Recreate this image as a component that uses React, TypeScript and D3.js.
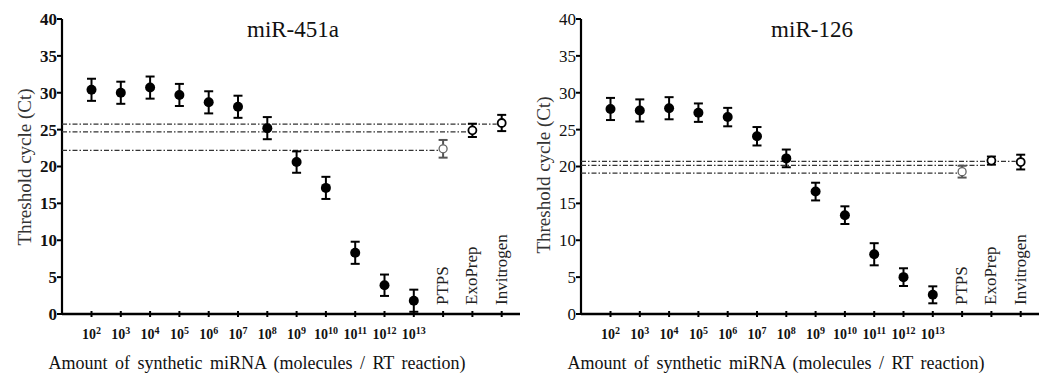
// App.tsx
import React, { useEffect, useRef } from "react";
import * as d3 from "d3";

// categories on the x axis
const exponents = ["2", "3", "4", "5", "6", "7", "8", "9", "10", "11", "12", "13"];
const kits = ["PTPS", "ExoPrep", "Invitrogen"];
const categories = [...exponents.map((e) => "10^" + e), ...kits];

// miR-451a
const mir451Mean = [30.4, 30.0, 30.7, 29.7, 28.7, 28.1, 25.2, 20.6, 17.1, 8.3, 3.9, 1.8, 22.4, 24.9, 25.9];
const mir451Err = [1.5, 1.5, 1.5, 1.5, 1.5, 1.5, 1.5, 1.45, 1.5, 1.5, 1.45, 1.5, 1.2, 0.9, 1.1];
const mir451Ref = [25.75, 24.7, 22.2];

// miR-126
const mir126Mean = [27.8, 27.6, 27.9, 27.3, 26.7, 24.1, 21.1, 16.6, 13.4, 8.1, 5.0, 2.6, 19.3, 20.8, 20.6];
const mir126Err = [1.5, 1.5, 1.5, 1.25, 1.25, 1.25, 1.2, 1.2, 1.2, 1.5, 1.2, 1.15, 0.8, 0.55, 1.0];
const mir126Ref = [20.7, 20.15, 19.1];

// each reference line runs from the y axis to this kit
const refEnds = ["Invitrogen", "ExoPrep", "PTPS"];

const yTicks = [0, 5, 10, 15, 20, 25, 30, 35, 40];

const FONT = "Liberation Serif, DejaVu Serif, Times New Roman, serif";

const panels = [
  { title: "miR-451a", mean: mir451Mean, err: mir451Err, ref: mir451Ref, left: 62, bold: true },
  { title: "miR-126", mean: mir126Mean, err: mir126Err, ref: mir126Ref, left: 581, bold: false },
];

const App = () => {
  const ref = useRef<SVGSVGElement>(null);

  useEffect(() => {
    const root = d3.select(ref.current);
    root.selectAll("*").remove();

    const top = 19;
    const bottom = 314;
    const y = d3.scaleLinear().domain([0, 40]).range([bottom, top]);

    panels.forEach((p) => {
      const x = d3
        .scalePoint<string>()
        .domain(categories)
        .range([p.left + 29.5, p.left + 29.5 + 14 * 29.3]);
      const axisEnd = p.left + 458;

      const g = root.append("g").attr("font-family", FONT);

      // title
      g.append("text")
        .attr("x", p.left + 231)
        .attr("y", 37)
        .attr("text-anchor", "middle")
        .attr("font-size", 23)
        .attr("fill", "#111")
        .text(p.title);

      // y axis
      g.append("line")
        .attr("x1", p.left)
        .attr("x2", p.left)
        .attr("y1", top)
        .attr("y2", bottom)
        .attr("stroke", "#000")
        .attr("stroke-width", 2.2);

      yTicks.forEach((t) => {
        g.append("line")
          .attr("x1", p.left - 5)
          .attr("x2", p.left)
          .attr("y1", y(t))
          .attr("y2", y(t))
          .attr("stroke", "#000")
          .attr("stroke-width", 2);
        g.append("text")
          .attr("x", p.left - 5)
          .attr("y", y(t))
          .attr("dy", "0.35em")
          .attr("text-anchor", "end")
          .attr("font-size", 17)
          .attr("font-weight", p.bold ? "bold" : "normal")
          .attr("fill", "#111")
          .text(t);
      });

      // y axis label
      g.append("text")
        .attr("transform", `translate(${p.left - 31},${p.bold ? 167 : 175}) rotate(-90)`)
        .attr("text-anchor", "middle")
        .attr("font-size", 19)
        .attr("fill", "#333")
        .text("Threshold cycle (Ct)");

      // x axis
      g.append("line")
        .attr("x1", p.left)
        .attr("x2", axisEnd)
        .attr("y1", bottom)
        .attr("y2", bottom)
        .attr("stroke", "#000")
        .attr("stroke-width", 2.5);

      categories.forEach((c) => {
        g.append("line")
          .attr("x1", x(c)!)
          .attr("x2", x(c)!)
          .attr("y1", bottom - 3)
          .attr("y2", bottom + 3)
          .attr("stroke", "#000")
          .attr("stroke-width", 2);
      });

      exponents.forEach((e) => {
        const t = g
          .append("text")
          .attr("x", x("10^" + e)!)
          .attr("y", 339)
          .attr("text-anchor", "middle")
          .attr("font-size", 14)
          .attr("font-weight", "bold")
          .attr("fill", "#111");
        t.append("tspan").text("10");
        t.append("tspan").attr("dy", "-5").attr("font-size", 10).text(e);
      });

      kits.forEach((k) => {
        g.append("text")
          .attr("transform", `translate(${x(k)! + 5},305) rotate(-90)`)
          .attr("font-size", 17)
          .attr("fill", "#222")
          .text(k);
      });

      g.append("text")
        .attr("x", p.left + 195)
        .attr("y", 369)
        .attr("text-anchor", "middle")
        .attr("font-size", 18)
        .attr("word-spacing", 3)
        .attr("fill", "#111")
        .text("Amount of synthetic miRNA (molecules  / RT reaction)");

      // dash-dot reference lines
      p.ref.forEach((v, i) => {
        g.append("line")
          .attr("x1", p.left)
          .attr("x2", x(refEnds[i])! - 5)
          .attr("y1", y(v))
          .attr("y2", y(v))
          .attr("stroke", "#333")
          .attr("stroke-width", 1.2)
          .attr("stroke-dasharray", "5,2,1.5,2");
      });

      // error bars
      categories.forEach((c, i) => {
        const cx = x(c)!;
        const hi = y(p.mean[i] + p.err[i]);
        const lo = y(Math.max(p.mean[i] - p.err[i], -0.3));
        const col = c === "PTPS" ? "#555" : "#000";
        g.append("line").attr("x1", cx).attr("x2", cx).attr("y1", hi).attr("y2", lo).attr("stroke", col).attr("stroke-width", 2);
        [hi, lo].forEach((yy) => {
          g.append("line")
            .attr("x1", cx - 4.5)
            .attr("x2", cx + 4.5)
            .attr("y1", yy)
            .attr("y2", yy)
            .attr("stroke", col)
            .attr("stroke-width", 2);
        });
      });

      // markers
      categories.forEach((c, i) => {
        const cx = x(c)!;
        const cy = y(p.mean[i]);
        if (i < exponents.length) {
          g.append("circle").attr("cx", cx).attr("cy", cy).attr("r", 5).attr("fill", "#000");
        } else {
          g.append("circle")
            .attr("cx", cx)
            .attr("cy", cy)
            .attr("r", 4)
            .attr("fill", "#fff")
            .attr("stroke", c === "PTPS" ? "#666" : "#000")
            .attr("stroke-width", c === "PTPS" ? 1.3 : 1.8);
        }
      });
    });
  }, []);

  return (
    <svg
      ref={ref}
      width={1044}
      height={374}
      style={{ position: "absolute", left: 0, top: 0, background: "#fff" }}
    />
  );
};

export default App;
